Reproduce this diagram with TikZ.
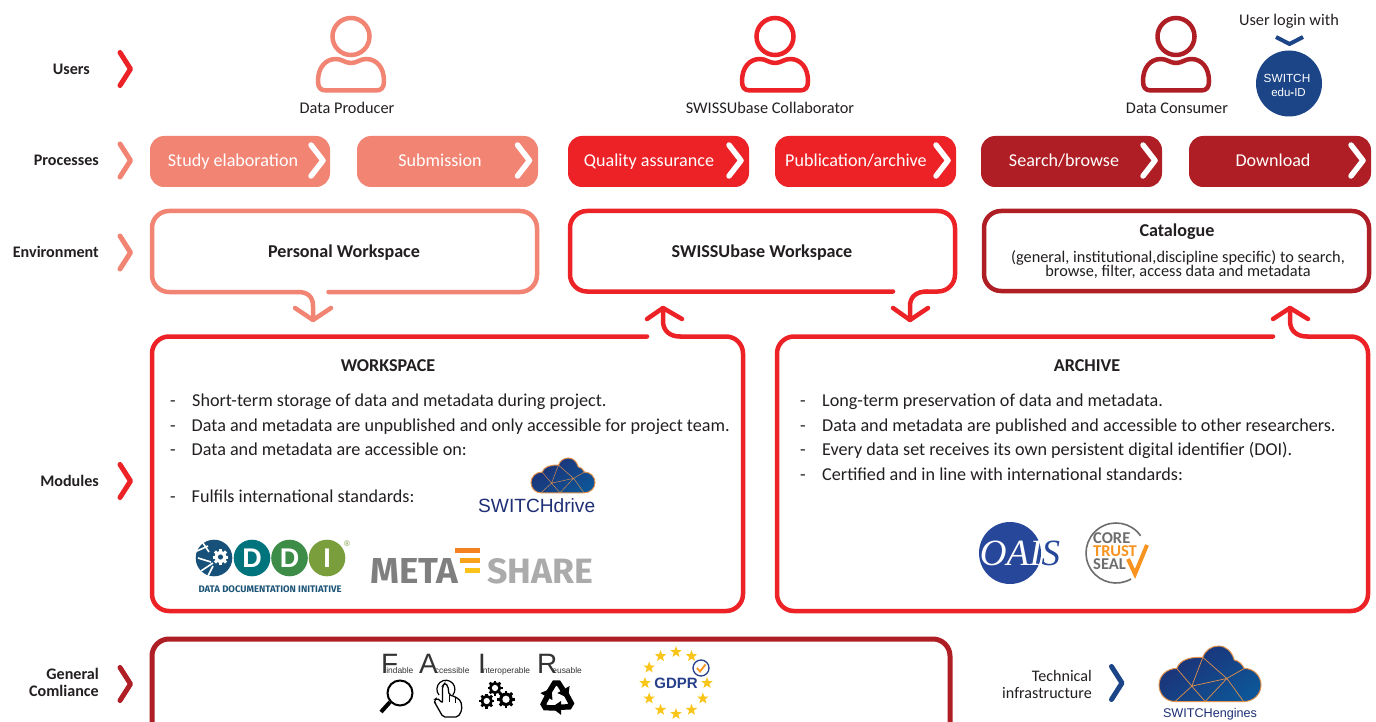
\documentclass[tikz,border=0pt]{standalone}
\usepackage{fontspec}
\setmainfont{Carlito}
\newfontfamily\lib{Liberation Sans}
\newfontfamily\libser{Liberation Serif}
\newfontfamily\firaf{Fira Sans}
\usetikzlibrary{shapes.geometric}
\definecolor{salmon}{HTML}{F28474}
\definecolor{redm}{HTML}{EC2227}
\definecolor{darkr}{HTML}{AE1E24}
\definecolor{navy}{HTML}{1C4587}
\definecolor{ink}{HTML}{231F20}
\definecolor{cloudA}{HTML}{1E2F75}
\definecolor{cloudB}{HTML}{0D5596}
\definecolor{cloudL}{HTML}{E0904A}
\definecolor{gold}{HTML}{F9C51B}
\definecolor{orangeL}{HTML}{F7931E}
\definecolor{ddiA}{HTML}{17517A}
\definecolor{ddiB}{HTML}{00747C}
\definecolor{ddiC}{HTML}{3D8C48}
\definecolor{ddiD}{HTML}{7A9E3C}
\definecolor{ddiT}{HTML}{1D5578}
\definecolor{metaA}{HTML}{7F7F7F}
\definecolor{metaB}{HTML}{ABABAB}
\definecolor{barA}{HTML}{F58220}
\definecolor{barB}{HTML}{F9A11B}
\definecolor{barC}{HTML}{FBC31A}
\definecolor{oaisb}{HTML}{27479B}
\definecolor{ctsg}{HTML}{6D6D6D}
\definecolor{fairg}{HTML}{333333}
\definecolor{gdprb}{HTML}{27408B}
\newcommand{\fsz}[1]{\fontsize{#1}{#1}\selectfont}
\tikzset{
  txt/.style={inner sep=0pt,text=ink,anchor=base},
  lbl/.style={txt,anchor=base east,font=\fsz{16.1}\bfseries},
  usr/.style={txt,font=\fsz{16.3}},
  body/.style={txt,anchor=base west,font=\fsz{18.15}},
  ttl/.style={txt,font=\fsz{18.1}\bfseries},
  proc/.style={rounded corners=14pt},
  ptxt/.style={inner sep=0pt,anchor=base,text=white,font=\fsz{18.1}},
  frame/.style={line width=4.5pt,rounded corners=17pt,line cap=round},
  stem/.style={line width=4.5pt,line cap=round,line join=round},
  chev/.style={line width=5pt,line cap=round,line join=round},
  wchev/.style={line width=5.5pt,line cap=round,line join=round,draw=white},
  fair/.style={inner sep=0pt,anchor=base west,text=fairg},
}
\newcommand{\fairword}[3]{{\lib\fsz{28}#1\kern#3pt\fsz{8.4}#2}}
% chevron, tip at (#1,#2)
\newcommand{\chv}[4]{\draw[chev,draw=#4] (#1-10.5,#2-#3) -- (#1,#2) -- (#1-10.5,#2+#3);}
\newcommand{\wch}[2]{\draw[wchev] (#1-12,#2-15.5) -- (#1,#2) -- (#1-12,#2+15.5);}
\newcommand{\person}[2]{%
  \draw[line width=4.5pt,draw=#2] (#1,36.5) circle (18.5);
  \draw[line width=4.5pt,draw=#2,line join=round]
    (#1-25,90.5) .. controls (#1-31,90.5) and (#1-33,87) .. (#1-33,81)
    .. controls (#1-33,68) and (#1-26,59) .. (#1-15,59)
    .. controls (#1-9,59) and (#1-6,63) .. (#1,63)
    .. controls (#1+6,63) and (#1+9,59) .. (#1+15,59)
    .. controls (#1+26,59) and (#1+33,68) .. (#1+33,81)
    .. controls (#1+33,87) and (#1+31,90.5) .. (#1+25,90.5) -- cycle;}
\newcommand{\cloudshape}[4]{%
  \begin{scope}[shift={(#1,#2)},xscale=#3/305,yscale=#3/305]
    \path[draw=cloudL,line width=1pt,left color=cloudA,right color=cloudB,shading angle=35]
      (48,166) .. controls (20,166) and (0,144) .. (0,117)
      .. controls (0,89) and (23,67) .. (53,67)
      .. controls (63,42) and (90,32) .. (131,34)
      .. controls (138,12) and (158,0) .. (178,0)
      .. controls (201,0) and (218,17) .. (225,42)
      .. controls (238,44) and (248,54) .. (255,67)
      .. controls (283,67) and (305,89) .. (305,117)
      .. controls (305,144) and (283,166) .. (253,166) -- cycle;
    \draw[cloudL,line width=#4pt] (48,166) -- (98,120) -- (138,166) -- (203,97) -- (253,166)
      (98,120) -- (203,97) -- (131,34) -- (98,120) -- (53,67) (203,97) -- (255,67);
  \end{scope}}
\newcommand{\gearicon}[3]{%
  \foreach \g in {0,45,...,315}
    \fill[black,shift={(#1,#2)},rotate=\g] (-#3*.17,-#3) rectangle (#3*.17,0);
  \fill[black] (#1,#2) circle (#3*.78);
  \fill[white] (#1,#2) circle (#3*.42);}
\begin{document}
\begin{tikzpicture}[x=1pt,y=-1pt]
\useasboundingbox (0,0) rectangle (1376,722);
\fill[white] (0,0) rectangle (1376,722);

% row labels
\node[lbl] (lUsers) at (90,74.5) {Users};
\node[lbl] (lProc) at (99,165.5) {Processes};
\node[lbl] (lEnv) at (99,257.5) {Environment};
\node[lbl] (lMod) at (99,486.5) {Modules};
\node[lbl] (lGen1) at (99,679.5) {General};
\node[lbl] (lGen2) at (99,696.5) {Comliance};
\chv{130.5}{69}{16.5}{redm}
\chv{130.5}{160.5}{16.5}{salmon}
\chv{130.5}{252.5}{16.5}{salmon}
\chv{130.5}{481}{16.5}{redm}
\chv{130.5}{684}{16.5}{darkr}

% users
\person{351}{salmon}
\person{775}{redm}
\person{1176}{darkr}
\node[usr] (uProd) at (347,113.5) {Data Producer};
\node[usr] (uColl) at (770,113.5) {SWISSUbase Collaborator};
\node[usr] (uCons) at (1177,113.5) {Data Consumer};
\node[usr] (uLogin) at (1289,25.5) {User login with};
\draw[navy,line width=4pt,line join=round] (1276,37) -- (1289.5,44) -- (1303,37);
\fill[navy] (1289,83.5) circle (33);
\node[inner sep=0pt,text=white,font=\lib\fsz{11.8}] (eduA) at (1287,78) {SWITCH};
\node[inner sep=0pt,text=white,font=\lib\fsz{11.5}] (eduB) at (1288.5,92.5) {edu{\bfseries-}ID};

% processes
\fill[proc,salmon] (150,136) rectangle (330,187);
\fill[proc,salmon] (357,136) rectangle (538,187);
\fill[proc,redm] (568,136) rectangle (749,187);
\fill[proc,redm] (775,136) rectangle (956,187);
\fill[proc,darkr] (981,136) rectangle (1162,187);
\fill[proc,darkr] (1189,136) rectangle (1371,187);
\node[ptxt] (p1) at (233,166.5) {Study elaboration};
\node[ptxt] (p2) at (440,166.5) {Submission};
\node[ptxt] (p3) at (649,166.5) {Quality assurance};
\node[ptxt] (p4) at (856,166.5) {Publication/archive};
\node[ptxt] (p5) at (1064,166.5) {Search/browse};
\node[ptxt] (p6) at (1273,166.5) {Download};
\wch{323}{160.5}
\wch{529.5}{160.5}
\wch{741}{160.5}
\wch{948}{160.5}
\wch{1155}{160.5}
\wch{1363}{160.5}

% environment
\coordinate (pwA) at (328.5,292);
\coordinate (pwB) at (298,292);
\coordinate (pwT) at (313,320);
\draw[frame,salmon] (pwA) -- (537,292) -- (537,211) -- (152,211) -- (152,292) -- (pwB);
\draw[stem,salmon] (pwB) .. controls (308,292) and (313,297) .. (313,306) -- (pwT);
\draw[stem,salmon] (295,308) -- (pwT) -- (331,308);
\node[ttl] (ePers) at (344,257.5) {Personal Workspace};

\coordinate (swA) at (893,291.5);
\coordinate (swB) at (927,291.5);
\coordinate (swT) at (910,320);
\draw[frame,redm] (swA) -- (570,291.5) -- (570,211) -- (955,211) -- (955,291.5) -- (swB);
\draw[stem,redm] (swB) .. controls (916,291.5) and (910,297) .. (910,306) -- (swT);
\draw[stem,redm] (893,308) -- (swT) -- (928,308);
\node[ttl] (eSwiss) at (762,257.5) {SWISSUbase Workspace};

\draw[frame,darkr] (984,211) rectangle (1369,291);
\node[ttl] (eCat) at (1177,236.5) {Catalogue};
\node[txt,font=\fsz{16.3}] (eCat1) at (1178,262.5) {(general, institutional,discipline specific) to search,};
\node[txt,font=\fsz{16.3}] (eCat2) at (1178,276.5) {browse, filter, access data and metadata};

% modules
\coordinate (wmA) at (647,336.5);
\coordinate (wmB) at (680,336.5);
\coordinate (wmT) at (663,308);
\draw[frame,redm] (wmA) -- (152,336.5) -- (152,611) -- (743,611) -- (743,336.5) -- (wmB);
\draw[stem,redm] (wmB) .. controls (670,336.5) and (663,331) .. (663,321) -- (wmT);
\draw[stem,redm] (647,319) -- (wmT) -- (682,319);

\coordinate (amA) at (1273,336.5);
\coordinate (amB) at (1307,336.5);
\coordinate (amT) at (1290,308);
\draw[frame,redm] (amA) -- (777,336.5) -- (777,611) -- (1368,611) -- (1368,336.5) -- (amB);
\draw[stem,redm] (amB) .. controls (1297,336.5) and (1290,331) .. (1290,321) -- (amT);
\draw[stem,redm] (1273,319) -- (amT) -- (1308,319);

\node[ttl] (mW) at (388,371.5) {WORKSPACE};
\node[ttl] (mA) at (1087,371.5) {ARCHIVE};

\node[body] (wd1) at (170,406) {-};
\node[body] (wd2) at (170,431) {-};
\node[body] (wd3) at (170,455) {-};
\node[body] (wd4) at (170,502) {-};
\node[body] (w1) at (192,406) {Short-term storage of data and metadata during project.};
\node[body] (w2) at (191.5,431) {Data and metadata are unpublished and only accessible for project team.};
\node[body] (w3) at (191.5,455) {Data and metadata are accessible on:};
\node[body] (w4) at (191.5,502) {Fulfils international standards:};

\node[body] (ad1) at (800,406) {-};
\node[body] (ad2) at (800,431) {-};
\node[body] (ad3) at (800,455) {-};
\node[body] (ad4) at (800,480) {-};
\node[body] (a1) at (822,406) {Long-term preservation of data and metadata.};
\node[body] (a2) at (822,431) {Data and metadata are published and accessible to other researchers.};
\node[body] (a3) at (822,455) {Every data set receives its own persistent digital identifier (DOI).};
\node[body] (a4) at (822,480) {Certified and in line with international standards:};

% SWITCHdrive
\cloudshape{531}{458}{64}{.45}
\node[inner sep=0pt,anchor=base west,text=cloudA] (drv) at (478,512.5) {\resizebox{117pt}{!}{\lib\fsz{20}SWITCHdrive}};

% DDI
\fill[ddiA] (214,558) circle (18.3);
\foreach \g in {0,45,...,315}
  \fill[white,shift={(220.5,557)},rotate=\g] (-1.5,-7.8) rectangle (1.5,0);
\fill[white] (220.5,557) circle (6);
\fill[ddiA] (220.5,557) circle (2.6);
\draw[white,line width=1.6pt] (197,551) -- (208,546) (198,558) -- (211,562) (203,543) -- (209,552) (201,571) -- (213,563) (208,576) -- (213,566);
\fill[ddiB] (252,558) circle (18.3);
\fill[ddiC] (289.5,558) circle (18.3);
\fill[ddiD] (327,558) circle (18.3);
\node[inner sep=0pt,text=white,font=\lib\bfseries\fsz{27}] (ddiD1) at (252,558) {D};
\node[inner sep=0pt,text=white,font=\lib\bfseries\fsz{27}] (ddiD2) at (289.5,558) {D};
\node[inner sep=0pt,text=white,font=\lib\bfseries\fsz{27}] (ddiI) at (327,558) {I};
\node[inner sep=0pt,text=ddiD,font=\lib\fsz{8}] (ddiR) at (347,544) {®};
\node[inner sep=0pt,text=ddiT] (ddiTx) at (270,589) {\resizebox{143pt}{!}{\firaf\bfseries\fsz{10}DATA DOCUMENTATION INITIATIVE}};

% META SHARE
\node[inner sep=0pt,anchor=base west,text=metaA] (meta) at (370,583) {\resizebox{88pt}{25pt}{\firaf\bfseries\fsz{30}META}};
\node[inner sep=0pt,anchor=base west,text=metaB] (share) at (487,583) {\resizebox{106pt}{25pt}{\firaf\bfseries\fsz{30}SHARE}};
\fill[barA] (455,548) rectangle (480,553);
\fill[barB] (460,558) rectangle (480,563);
\fill[barC] (465,568) rectangle (480,573);

% OAIS
\fill[oaisb] (1010,553) circle (31);
\node[inner sep=0pt,font=\libser\itshape\fsz{37}] (oais) at (1020,553) {\textcolor{white}{OAI}\textcolor{oaisb}{S}};

% Core trust seal
\draw[ctsg,line width=1.6pt] (1140.6,535.8) arc (-35:-300:30);
\node[inner sep=0pt,anchor=west,align=left,font=\bfseries\fontsize{16.5}{13}\selectfont] (cts) at (1093,551)
  {\textcolor{ctsg}{CORE}\\\textcolor{orangeL}{TRUST}\\\textcolor{ctsg}{SEAL}};
\draw[orangeL,line width=4pt,line join=miter] (1128,559) -- (1135,574) -- (1147,545);

% general compliance
\draw[frame,darkr,line width=5pt] (152,760) -- (152,639) -- (950,639) -- (950,760);

% FAIR
\node[fair] (fF) at (381,673) {\fairword{F}{indable}{-12}};
\node[fair] (fA) at (419,673) {\fairword{A}{ccessible}{-3}};
\node[fair] (fI) at (478,673) {\fairword{I}{nteroperable}{-3}};
\node[fair] (fR) at (537,673) {\fairword{R}{eusable}{-5}};
% magnifier
\draw[black,line width=2pt] (400,693) circle (12.5);
\draw[black,line width=4pt] (390,702) -- (381,712);
% hand
\draw[black,line width=1.2pt] (439,695) arc (140:400:9);
\draw[black,line width=1.3pt,rounded corners=2pt,fill=white]
  (442.5,686) -- (445,683) -- (448,686) -- (449,695) -- (455,696.5) -- (461,701) -- (462,710) -- (458,717)
  -- (443,717) -- (435,703) -- (434,700) -- (437,698) -- (442.5,703) -- cycle;
\draw[black,line width=1pt] (449,695) -- (449,702) (455,696.5) -- (455,703);
% gears
\gearicon{495}{688}{7.5}
\gearicon{486.7}{701}{7.5}
\gearicon{506}{699.3}{8.7}
% recycle
\foreach \r in {0,120,240}{
  \begin{scope}[shift={(557,698)},rotate=\r]
    \draw[black,line width=5.5pt] (-9.5,-3.5) -- (-2.5,-15) -- (1.5,-15) -- (6,-8);
    \fill[black] (11,0) -- (0.4,-5) -- (12.6,-12) -- cycle;
  \end{scope}}

% GDPR
\foreach \a in {0,30,...,330}
  \node[star,star points=5,star point ratio=2.4,fill=gold,inner sep=0pt,minimum size=12pt] (st\a) at ({676+31*cos(\a)},{683+31*sin(\a)}) {};
\node[inner sep=0pt,text=gdprb,font=\lib\bfseries\fsz{15}] (gdpr) at (676,683) {GDPR};
\draw[gdprb,line width=1.3pt,fill=white] (701,668) circle (8);
\draw[orangeL,line width=1.8pt] (697,668) -- (700,671.5) -- (705.5,664.5);

% technical
\node[txt,anchor=base east,font=\fsz{16.1}] (t1) at (1092,681.5) {Technical};
\node[txt,anchor=base east,font=\fsz{16.1}] (t2) at (1092,698.5) {infrastructure};
\chv{1122}{683}{16.5}{navy}
\cloudshape{1159}{646}{102}{.7}
\node[inner sep=0pt,text=cloudA] (eng) at (1210,714.5) {\resizebox{94pt}{!}{\lib\fsz{12}SWITCHengines}};
\end{tikzpicture}
\end{document}
